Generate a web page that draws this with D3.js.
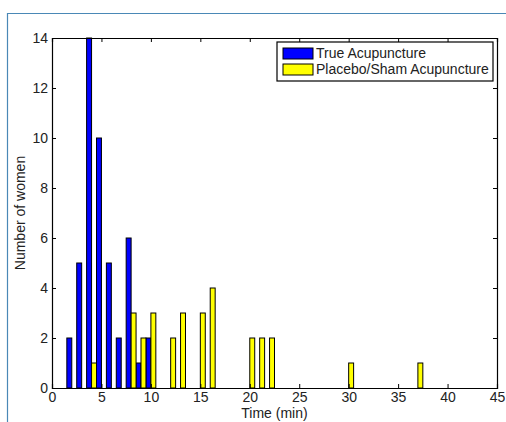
<!DOCTYPE html>
<html>
<head>
<meta charset="utf-8">
<script src="https://cdn.jsdelivr.net/npm/d3@7"></script>
<style>
  body { margin: 0; background: #fff; }
  svg { display: block; font-family: "Liberation Sans", Arial, Helvetica, sans-serif; }
</style>
</head>
<body>
<svg id="chart"></svg>
<script>
const width = 506;
const height = 422;

// Bin centres (minutes) and counts per group
const binTimes = [2, 3, 4, 5, 6, 7, 8, 9, 10, 12, 13, 15, 16, 20, 21, 22, 30, 37];
const trueCounts = [2, 5, 14, 10, 5, 2, 6, 1, 2, 0, 0, 0, 0, 0, 0, 0, 0, 0];
const shamCounts = [0, 0, 1, 0, 0, 0, 3, 2, 3, 2, 3, 3, 4, 2, 2, 2, 1, 1];

const seriesNames = ["True Acupuncture", "Placebo/Sham Acupuncture"];
const seriesColors = ["#0000ff", "#ffff00"];
const xTicks = [0, 5, 10, 15, 20, 25, 30, 35, 40, 45];
const yTicks = [0, 2, 4, 6, 8, 10, 12, 14];

// plot box edges
const plotL = 52, plotR = 497, plotT = 38, plotB = 388;

const svg = d3.select("#chart")
    .attr("width", width)
    .attr("height", height);

// Figure frame (top and left edges only visible)
svg.append("path")
    .attr("d", `M7.5,${height} V13.5 H${width}`)
    .attr("fill", "none")
    .attr("stroke", "#4a88b6")
    .attr("stroke-width", 1.2);

const x = d3.scaleLinear().domain([0, 45]).range([plotL, plotR]);
const y = d3.scaleLinear().domain([0, 14]).range([plotB, plotT]);

// Bars: true group sits left of centre, sham group right of centre
const barW = 0.5;
const groups = [trueCounts, shamCounts];
const offsets = [-0.25, 0.25];

groups.forEach((counts, gi) => {
    const data = binTimes.map((t, i) => ({ t: t, n: counts[i] })).filter(d => d.n > 0);
    svg.append("g")
        .selectAll("rect")
        .data(data)
        .enter()
        .append("rect")
        .attr("x", d => x(d.t + offsets[gi] - barW / 2))
        .attr("width", d => x(barW) - x(0))
        .attr("y", d => y(d.n))
        .attr("height", d => y(0) - y(d.n))
        .attr("fill", seriesColors[gi])
        .attr("stroke", "#000")
        .attr("stroke-width", 1);
});

// Axes (MATLAB style: box on, ticks pointing inward)
const xAxis = svg.append("g")
    .attr("transform", `translate(0,${plotB})`)
    .call(d3.axisBottom(x).tickValues(xTicks).tickSize(-4).tickPadding(4));
const xTop = svg.append("g")
    .attr("transform", `translate(0,${plotT})`)
    .call(d3.axisTop(x).tickValues(xTicks).tickSize(-4).tickFormat(""));
const yAxis = svg.append("g")
    .attr("transform", `translate(${plotL},0)`)
    .call(d3.axisLeft(y).tickValues(yTicks).tickSize(-4).tickPadding(4));
const yRight = svg.append("g")
    .attr("transform", `translate(${plotR},0)`)
    .call(d3.axisRight(y).tickValues(yTicks).tickSize(-4).tickFormat(""));

[xAxis, xTop, yAxis, yRight].forEach(g => {
    g.select(".domain").attr("stroke", "#000").attr("stroke-width", 1.2);
    g.selectAll(".tick line").attr("stroke", "#000");
    g.selectAll("text").attr("font-size", 14).attr("fill", "#222")
        .attr("font-family", "Liberation Sans, Arial, sans-serif");
});

// Axis titles
svg.append("text")
    .attr("x", (plotL + plotR) / 2)
    .attr("y", 418)
    .attr("text-anchor", "middle")
    .attr("font-size", 14)
    .attr("fill", "#222")
    .text("Time (min)");

svg.append("text")
    .attr("transform", `translate(25,${(plotT + plotB) / 2}) rotate(-90)`)
    .attr("text-anchor", "middle")
    .attr("font-size", 14)
    .attr("fill", "#222")
    .text("Number of women");

// Legend
const legend = svg.append("g").attr("transform", "translate(277,42)");
legend.append("rect")
    .attr("width", 216)
    .attr("height", 39)
    .attr("fill", "#fff")
    .attr("stroke", "#000")
    .attr("stroke-width", 1.2);

seriesNames.forEach((name, i) => {
    const row = legend.append("g").attr("transform", `translate(0,${6 + i * 16})`);
    row.append("rect")
        .attr("x", 6)
        .attr("y", 0)
        .attr("width", 30)
        .attr("height", 11)
        .attr("fill", seriesColors[i])
        .attr("stroke", "#000");
    row.append("text")
        .attr("x", 39)
        .attr("y", 10)
        .attr("font-size", 14)
        .attr("fill", "#222")
        .text(name);
});
</script>
</body>
</html>
